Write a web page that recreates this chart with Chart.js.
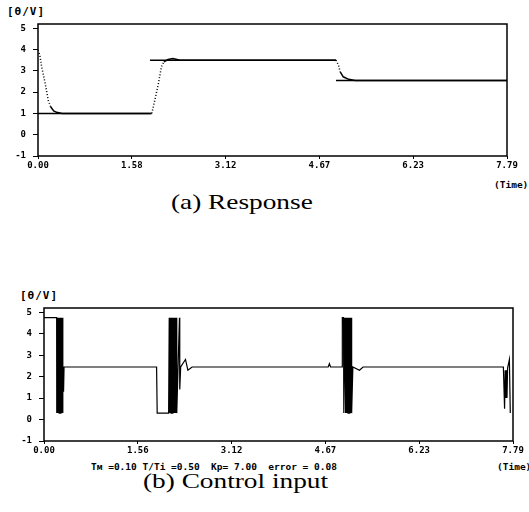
<!DOCTYPE html>
<html>
<head>
<meta charset="utf-8">
<script src="https://cdn.jsdelivr.net/npm/chart.js@4"></script>
<style>
  body { margin: 0; width: 529px; height: 512px; background: #fff; overflow: hidden; position: relative; }
  .box { position: absolute; }
  .lbl { position: absolute; font-family: "DejaVu Sans Mono", monospace; font-weight: bold; color: #000; white-space: pre; }
  .cap { position: absolute; font-family: "Liberation Serif", serif; font-size: 21px; color: #000; white-space: pre; transform-origin: left top; transform: scaleX(1.3); }
</style>
</head>
<body>
<div class="lbl" style="left:7px;top:5px;font-size:11px;letter-spacing:1px">[θ/V]</div>
<div class="box" style="left:0;top:0;width:529px;height:175px"><canvas id="graficoResposta" width="529" height="175"></canvas></div>
<div class="lbl" style="left:494px;top:179px;font-size:9.5px">(Time)</div>
<div class="cap" style="left:171px;top:190px">(a) Response</div>

<div class="lbl" style="left:20px;top:289px;font-size:11px;letter-spacing:1px">[θ/V]</div>
<div class="box" style="left:0;top:285px;width:529px;height:175px"><canvas id="graficoControle" width="529" height="175"></canvas></div>
<div class="lbl" style="left:91px;top:461px;font-size:9.5px">Tм =0.10 T/Ti =0.50  Kp= 7.00  error = 0.08</div>
<div class="lbl" style="left:497px;top:461px;font-size:9.5px">(Time)</div>
<div class="cap" style="left:143px;top:469px">(b) Control input</div>

<script>
// eixos
const yTicks = [-1, 0, 1, 2, 3, 4, 5];
const xTicks = [0, 1.558, 3.116, 4.674, 6.232, 7.79];
const xLabelsTop = ['0.00', '1.58', '3.12', '4.67', '6.23', '7.79'];
const xLabelsBottom = ['0.00', '1.56', '3.12', '4.67', '6.23', '7.79'];

// (a) resposta
const respT = [0, 0.03, 0.06, 0.12, 0.17, 0.21, 0.26, 0.31, 0.40, 1.89, 1.94, 2.00, 2.05, 2.09, 2.16, 2.24, 2.36, 4.95, 4.99, 5.02, 5.07, 5.16, 5.27, 7.79];
const respV = [3.97, 3.75, 3.2, 2.4, 1.62, 1.31, 1.12, 1.05, 1.0, 1.0, 1.62, 2.4, 3.19, 3.42, 3.53, 3.58, 3.5, 3.5, 3.27, 2.95, 2.72, 2.6, 2.55, 2.55];

// referencia (degraus sem ligacao vertical)
const refT = [0, 1.87, 1.87, 1.86, 4.95, 4.95, 4.95, 7.79];
const refV = [1, 1, null, 3.5, 3.5, null, 2.55, 2.55];

// (b) entrada de controle
const ctrlT = [
  0, 0.21, 0.212, 0.222, 0.232, 0.242, 0.252, 0.262, 0.272, 0.282, 0.292, 0.302, 0.31, 0.315, 0.325, 0.333,
  1.87, 1.88, 2.07, 2.08, 2.09, 2.10, 2.11, 2.12, 2.13, 2.14, 2.15, 2.16, 2.17, 2.18, 2.19, 2.20, 2.205, 2.25, 2.255, 2.27, 2.35, 2.39, 2.46,
  4.72, 4.74, 4.76, 4.95, 4.955, 4.975, 4.98, 5.0, 5.01, 5.02, 5.03, 5.04, 5.05, 5.06, 5.07, 5.08, 5.09, 5.10, 5.11, 5.13, 5.24, 5.30,
  7.63, 7.65, 7.66, 7.67, 7.68, 7.69, 7.70, 7.73, 7.745
];
const ctrlV = [
  4.75, 4.75, 0.3, 4.75, 0.3, 4.75, 0.3, 4.75, 0.3, 4.75, 0.3, 4.75, 0.3, 2.5, 1.3, 2.45,
  2.45, 0.3, 0.3, 4.75, 0.3, 4.75, 0.3, 4.75, 0.3, 4.75, 0.3, 4.75, 0.3, 4.75, 0.3, 4.75, 0.3, 4.75, 1.4, 2.45, 2.8, 2.3, 2.45,
  2.45, 2.6, 2.45, 2.45, 4.75, 4.75, 0.3, 4.75, 0.3, 4.75, 0.3, 4.75, 0.3, 4.75, 0.3, 4.75, 0.3, 4.75, 0.3, 2.45, 2.3, 2.45,
  2.45, 0.5, 2.3, 1.0, 2.3, 1.0, 2.4, 2.8, 0.3
];

const toPoints = (ts, vs) => ts.map((t, i) => ({ x: t, y: vs[i] }));

const moldura = {
  id: 'moldura',
  afterDatasetsDraw(chart) {
    const a = chart.chartArea;
    const ctx = chart.ctx;
    ctx.save();
    ctx.strokeStyle = '#000';
    ctx.lineWidth = 1.5;
    ctx.strokeRect(a.left, a.top, a.right - a.left, a.bottom - a.top);
    ctx.restore();
  }
};

function opcoes(yWidth, padRight, padTop, xLabels) {
  const fonte = { family: 'DejaVu Sans Mono', weight: 'bold', size: 9 };
  return {
    responsive: false,
    animation: false,
    devicePixelRatio: 1,
    layout: { padding: { left: 0, right: padRight, top: padTop, bottom: 0 } },
    plugins: { legend: { display: false }, tooltip: { enabled: false } },
    elements: { point: { radius: 0 }, line: { tension: 0 } },
    scales: {
      x: {
        type: 'linear', min: 0, max: 7.79,
        border: { display: false },
        grid: { drawOnChartArea: false, color: '#000', tickLength: 3 },
        afterBuildTicks: s => { s.ticks = xTicks.map(v => ({ value: v })); },
        afterFit: s => { s.height = 19; },
        ticks: { color: '#000', font: fonte, padding: 1, maxRotation: 0, autoSkip: false,
          callback: (v, i) => xLabels[i] }
      },
      y: {
        min: -1, max: 5.2,
        border: { display: false },
        grid: { drawOnChartArea: false, color: '#000', tickLength: 5 },
        afterBuildTicks: s => { s.ticks = yTicks.map(v => ({ value: v })); },
        afterFit: s => { s.width = yWidth; },
        ticks: { color: '#000', font: fonte, padding: 7, callback: v => String(v) }
      }
    }
  };
}

function inicializarGraficos() {
  const ingreme = c => Math.abs(c.p1.y - c.p0.y) > 2 * Math.abs(c.p1.x - c.p0.x) ? [1, 2] : undefined;

  new Chart(document.getElementById('graficoResposta').getContext('2d'), {
    type: 'line',
    data: {
      datasets: [{
        label: 'Referência',
        data: toPoints(refT, refV),
        borderColor: '#000', borderWidth: 1.5, spanGaps: false
      }, {
        label: 'Resposta',
        data: toPoints(respT, respV),
        borderColor: '#000', borderWidth: 1.5,
        segment: { borderDash: ingreme }
      }]
    },
    options: opcoes(38, 22, 24, xLabelsTop),
    plugins: [moldura]
  });

  new Chart(document.getElementById('graficoControle').getContext('2d'), {
    type: 'line',
    data: {
      datasets: [{
        label: 'Controle',
        data: toPoints(ctrlT, ctrlV),
        borderColor: '#000', borderWidth: 1.2
      }]
    },
    options: opcoes(44, 16, 23, xLabelsBottom),
    plugins: [moldura]
  });
}

window.onload = inicializarGraficos;
</script>
</body>
</html>
